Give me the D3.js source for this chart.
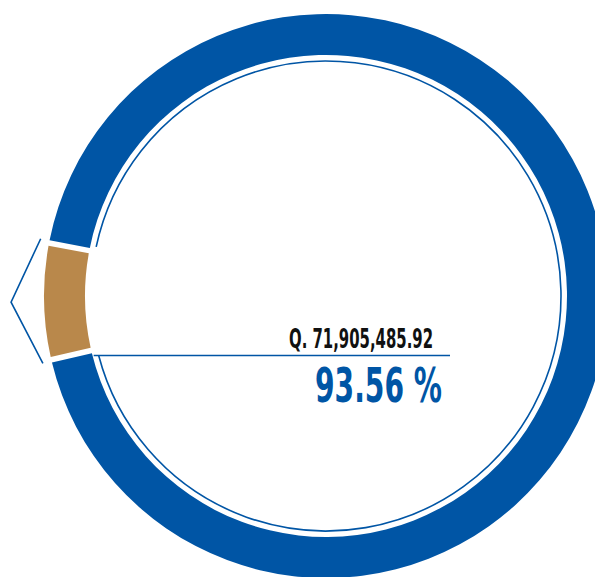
<!DOCTYPE html>
<html>
<head>
<meta charset="utf-8">
<script src="https://cdn.jsdelivr.net/npm/d3@7"></script>
<style>
  html, body { margin: 0; padding: 0; background: #fff; overflow: hidden; }
  text { font-family: "Liberation Sans Narrow", "DejaVu Sans Condensed", sans-serif; font-weight: bold; }
</style>
</head>
<body>
<svg id="chart" width="595" height="577"></svg>
<script>
// chart data
var labels = ["Ejecutado", "Pendiente"];
var percents = [93.56, 6.44];
var amounts = ["Q. 71,905,485.92"];
var colors = ["#0055a5", "#b9884b"];

(function () {
    "use strict";

    var cx = 326, cy = 296,
        outerR = 282, innerR = 241,
        lineR = 235,
        deg = Math.PI / 180;

    var svg = d3.select("#chart");
    var g = svg.append("g").attr("transform", "translate(" + cx + "," + cy + ")");

    // blue first, starting just above 9 o'clock so the tan slice sits on the left
    var pie = d3.pie().sort(null)
        .startAngle(-79.15 * deg)
        .endAngle(-79.15 * deg + 2 * Math.PI)
        .padAngle(0.015);

    var arcs = pie(percents);

    var arc = d3.arc().innerRadius(innerR).outerRadius(outerR);

    g.selectAll("path.slice")
        .data(arcs)
        .enter().append("path")
        .attr("class", "slice")
        .attr("d", arc)
        .attr("fill", function (d, i) { return colors[i]; });

    // thin callout arc for the big slice + horizontal leader
    var blue = arcs[0];
    var a0 = blue.startAngle + 1.2 * deg,
        a1 = blue.endAngle - 1.6 * deg;
    var p = d3.path();
    p.arc(0, 0, lineR, a0 - Math.PI / 2, a1 - Math.PI / 2);
    g.append("path")
        .attr("d", p.toString())
        .attr("fill", "none")
        .attr("stroke", colors[0])
        .attr("stroke-width", 1.6);

    var ex = lineR * Math.sin(a1), ey = -lineR * Math.cos(a1);
    var lineEndX = 450 - cx;
    g.append("line")
        .attr("x1", ex - 5).attr("y1", ey)
        .attr("x2", lineEndX).attr("y2", ey)
        .attr("stroke", colors[0])
        .attr("stroke-width", 1.6);

    g.append("text")
        .attr("x", 433 - cx)
        .attr("y", ey - 7.5)
        .attr("text-anchor", "end")
        .attr("font-size", 26.5)
        .attr("textLength", 144)
        .attr("lengthAdjust", "spacingAndGlyphs")
        .attr("fill", "#111")
        .text(amounts[0]);

    g.append("text")
        .attr("x", 442 - cx)
        .attr("y", ey + 46)
        .attr("text-anchor", "end")
        .attr("font-size", 48)
        .attr("textLength", 127)
        .attr("lengthAdjust", "spacingAndGlyphs")
        .attr("fill", colors[0])
        .text(d3.format(".2f")(percents[0]) + " %");

    // chevron callout for the small slice
    var tan = arcs[1];
    var mid = (tan.startAngle + tan.endAngle) / 2;
    var pt = function (a, r) { return [r * Math.sin(a), -r * Math.cos(a)]; };
    var chev = [pt(tan.endAngle + 0.5 * deg, 291), pt(mid, 315), pt(tan.startAngle - 0.3 * deg, 291)];
    g.append("path")
        .attr("d", d3.line()(chev))
        .attr("fill", "none")
        .attr("stroke", colors[0])
        .attr("stroke-width", 1.6);
}());
</script>
</body>
</html>
